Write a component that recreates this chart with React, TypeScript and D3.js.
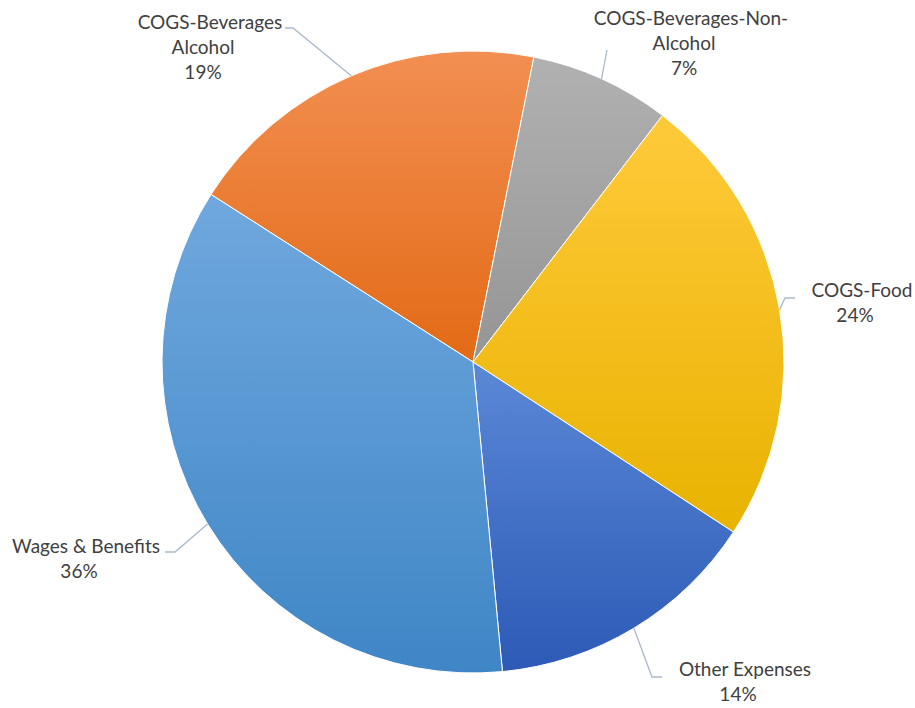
import React from "react";
import * as d3 from "d3";

const categories = [
  "COGS-Beverages Alcohol",
  "COGS-Beverages-Non-Alcohol",
  "COGS-Food",
  "Other Expenses",
  "Wages & Benefits",
];
const values = [19.1, 7.3, 23.8, 14.3, 35.6];
const labelLines = [
  ["COGS-Beverages", "Alcohol"],
  ["COGS-Beverages-Non-", "Alcohol"],
  ["COGS-Food"],
  ["Other Expenses"],
  ["Wages & Benefits"],
];
const colorsTop = ["#F28F52", "#B1B1B1", "#FFCA3A", "#5B88D6", "#70A8DE"];
const colorsBottom = ["#E36A15", "#959595", "#E8B300", "#2C5AB6", "#3F86C6"];

// label layout (annotation placement)
const labelLayout = [
  { x: 203, y: 29, pts: [[293, 28], [285, 28]] },
  { x: 684, y: 25, pts: [[607, 50]] },
  { x: 855, y: 297, pts: [[785, 298], [795, 298]] },
  { x: 738, y: 676, pts: [[652, 677], [662, 677]] },
  { x: 79, y: 553, pts: [[175, 552], [165, 552]] },
];

const W = 915;
const H = 708;
const cx = 473;
const cy = 362;
const R = 311;
const startDeg = 302.6;

export default function App() {
  const pie = d3
    .pie<number>()
    .sort(null)
    .value((d) => d)
    .startAngle((startDeg * Math.PI) / 180)
    .endAngle((startDeg * Math.PI) / 180 + 2 * Math.PI);
  const arcs = pie(values);
  const arc = d3.arc<d3.PieArcDatum<number>>().innerRadius(0).outerRadius(R);
  const total = d3.sum(values);
  const fmt = d3.format(".0%");
  const font = "Lato, 'Open Sans', sans-serif";
  const fs = 19;

  return (
    <svg
      width={W}
      height={H}
      style={{ position: "absolute", left: 0, top: 0, background: "#fff" }}
    >
      <defs>
        {categories.map((c, i) => (
          <linearGradient key={c} id={`g${i}`} x1="0" y1="0" x2="0" y2="1">
            <stop offset="0" stopColor={colorsTop[i]} />
            <stop offset="1" stopColor={colorsBottom[i]} />
          </linearGradient>
        ))}
      </defs>
      <g transform={`translate(${cx},${cy})`}>
        {arcs.map((a, i) => (
          <path
            key={categories[i]}
            d={arc(a) || ""}
            fill={`url(#g${i})`}
            stroke="#fff"
            strokeWidth={1}
          />
        ))}
      </g>
      {arcs.map((a, i) => {
        const mid = (a.startAngle + a.endAngle) / 2;
        const ex = cx + R * Math.sin(mid);
        const ey = cy - R * Math.cos(mid);
        const L = labelLayout[i];
        const pts = [[ex, ey], ...L.pts];
        const lines = [...labelLines[i], fmt(values[i] / total)];
        return (
          <g key={categories[i]}>
            <polyline
              points={pts.map((p) => p.join(",")).join(" ")}
              fill="none"
              stroke="#A9B9CB"
              strokeWidth={1.3}
            />
            {lines.map((t, j) => (
              <text
                key={j}
                x={j === 0 && lines.length > 1 ? L.x + 7 : L.x}
                y={L.y + j * 25}
                textAnchor="middle"
                fontFamily={font}
                fontSize={fs}
                fill="#404040"
              >
                {t}
              </text>
            ))}
          </g>
        );
      })}
    </svg>
  );
}
